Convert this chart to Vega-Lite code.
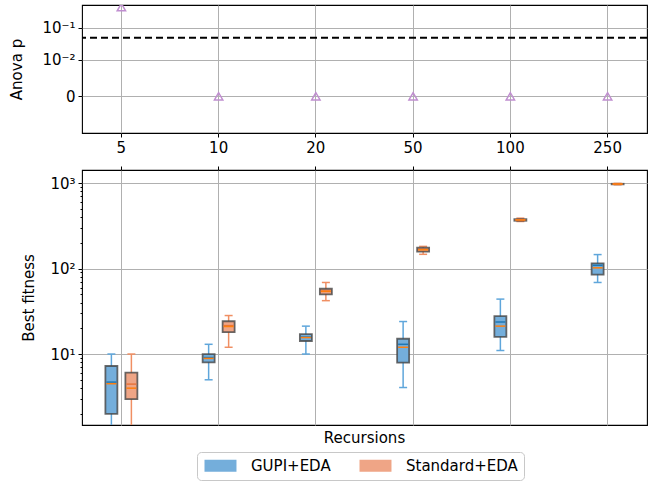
{
  "$schema": "https://vega.github.io/schema/vega-lite/v6.json",
  "padding": {"left": 9, "top": 4, "right": 3, "bottom": 0},
  "background": "white",
  "bounds": "flush",
  "spacing": 37,
  "config": {
    "font": "DejaVu Sans",
    "view": {"stroke": "black", "strokeWidth": 1.1},
    "axis": {
      "labelFontSize": 15, "titleFontSize": 15, "titleFontWeight": "normal",
      "labelColor": "black", "titleColor": "black", "tickColor": "black",
      "tickSize": 4, "tickWidth": 1, "labelPadding": 3,
      "gridColor": "#b0b0b0", "gridWidth": 1, "domain": false,
      "labelFont": "DejaVu Sans", "titleFont": "DejaVu Sans"
    },
    "legend": {"labelFont": "DejaVu Sans", "labelFontSize": 15, "labelColor": "black"},
    "title": {"font": "DejaVu Sans"}
  },
  "vconcat": [
    {
      "width": 565,
      "height": 128,
      "layer": [
        {
          "data": {"values": [
            {"threshold": 0.05}
          ]},
          "mark": {"type": "rule", "color": "black", "strokeWidth": 2, "strokeDash": [7, 4]},
          "encoding": {
            "y": {"field": "threshold", "type": "quantitative", "title": "Anova p"}
          }
        },
        {
          "data": {"values": [
            {"Recursions": "5", "p": 0.43},
            {"Recursions": "10", "p": 0},
            {"Recursions": "20", "p": 0},
            {"Recursions": "50", "p": 0},
            {"Recursions": "100", "p": 0},
            {"Recursions": "250", "p": 0}
          ]},
          "mark": {"type": "point", "shape": "triangle-up", "filled": false, "color": "#c08ed0", "strokeWidth": 1.5, "size": 70, "opacity": 1, "clip": true},
          "encoding": {
            "x": {
              "field": "Recursions", "type": "ordinal",
              "sort": ["5", "10", "20", "50", "100", "250"],
              "scale": {"type": "band", "paddingInner": 0.19, "paddingOuter": 0},
              "axis": {"orient": "bottom", "title": null, "labelAngle": 0, "grid": true, "bandPosition": 0.5}
            },
            "y": {
              "field": "p", "type": "quantitative",
              "scale": {"type": "symlog", "constant": 0.00083, "domain": [-0.01, 0.5], "nice": false, "zero": false},
              "axis": {
                "title": "Anova p", "titlePadding": 17, "values": [0, 0.01, 0.1], "grid": true,
                "labelExpr": "datum.value == 0 ? '0' : (datum.value == 0.01 ? '10⁻²' : '10⁻¹')"
              }
            }
          }
        }
      ]
    },
    {
      "width": 565,
      "height": 255,
      "title": {"text": "Recursions", "orient": "bottom", "anchor": "middle", "fontSize": 15, "fontWeight": "normal", "color": "black", "offset": 6},
      "data": {"values": [
        {"Recursions": "5", "Method": "GUPI+EDA", "min": 1.3, "q1": 2.0, "median": 4.5, "mean": 4.7, "q3": 7.25, "max": 10},
        {"Recursions": "5", "Method": "Standard+EDA", "min": 1.3, "q1": 2.97, "median": 3.99, "mean": 4.45, "q3": 6.06, "max": 10},
        {"Recursions": "10", "Method": "GUPI+EDA", "min": 5.0, "q1": 8.0, "median": 8.9, "mean": 9.1, "q3": 10.0, "max": 13.0},
        {"Recursions": "10", "Method": "Standard+EDA", "min": 12.0, "q1": 18.0, "median": 21.0, "mean": 21.5, "q3": 24.2, "max": 28.2},
        {"Recursions": "20", "Method": "GUPI+EDA", "min": 10.0, "q1": 14.2, "median": 15.6, "mean": 15.8, "q3": 17.1, "max": 21.2},
        {"Recursions": "20", "Method": "Standard+EDA", "min": 42.1, "q1": 49.9, "median": 54.1, "mean": 54.5, "q3": 58.0, "max": 68.7},
        {"Recursions": "50", "Method": "GUPI+EDA", "min": 4.06, "q1": 7.92, "median": 12.0, "mean": 13.0, "q3": 15.1, "max": 24.0},
        {"Recursions": "50", "Method": "Standard+EDA", "min": 146.6, "q1": 157.7, "median": 166, "mean": 167, "q3": 175, "max": 181.5},
        {"Recursions": "100", "Method": "GUPI+EDA", "min": 11.0, "q1": 15.9, "median": 21.2, "mean": 23.7, "q3": 27.7, "max": 43.9},
        {"Recursions": "100", "Method": "Standard+EDA", "min": 355, "q1": 362, "median": 370, "mean": 371, "q3": 378, "max": 388},
        {"Recursions": "250", "Method": "GUPI+EDA", "min": 68.7, "q1": 85.1, "median": 101.9, "mean": 109, "q3": 115, "max": 145.6},
        {"Recursions": "250", "Method": "Standard+EDA", "min": 955, "q1": 965, "median": 973, "mean": 974, "q3": 980, "max": 990}
      ]},
      "encoding": {
        "x": {
          "field": "Recursions", "type": "ordinal",
          "sort": ["5", "10", "20", "50", "100", "250"],
          "scale": {"type": "band", "paddingInner": 0.19, "paddingOuter": 0},
          "axis": {"orient": "top", "title": null, "labels": false, "grid": true, "bandPosition": 0.5}
        },
        "xOffset": {
          "field": "Method", "type": "nominal",
          "sort": ["GUPI+EDA", "Standard+EDA"],
          "scale": {"paddingInner": 0, "paddingOuter": 0.97}
        }
      },
      "layer": [
        {
          "mark": {"type": "rule", "strokeWidth": 1.5, "clip": true},
          "encoding": {
            "y": {
              "field": "min", "type": "quantitative",
              "scale": {"type": "log", "domain": [1.48, 1420], "nice": false, "zero": false},
              "axis": {
                "title": "Best fitness", "titlePadding": 13, "grid": true,
                "values": [2, 3, 4, 5, 6, 7, 8, 9, 10, 20, 30, 40, 50, 60, 70, 80, 90, 100, 200, 300, 400, 500, 600, 700, 800, 900, 1000],
                "labelExpr": "datum.value == 10 ? '10¹' : (datum.value == 100 ? '10²' : (datum.value == 1000 ? '10³' : ''))",
                "tickSize": {"condition": {"test": "datum.value == 10 || datum.value == 100 || datum.value == 1000", "value": 4}, "value": 2},
                "gridOpacity": {"condition": {"test": "datum.value == 10 || datum.value == 100 || datum.value == 1000", "value": 1}, "value": 0}
              }
            },
            "y2": {"field": "max"},
            "color": {"condition": {"test": "datum.Method == 'GUPI+EDA'", "value": "#5fa6db"}, "value": "#f08f63"}
          }
        },
        {
          "mark": {"type": "tick", "orient": "horizontal", "size": 8, "thickness": 1.5, "opacity": 1, "clip": true},
          "encoding": {
            "y": {"field": "min", "type": "quantitative", "title": "Best fitness"},
            "color": {"condition": {"test": "datum.Method == 'GUPI+EDA'", "value": "#5fa6db"}, "value": "#f08f63"}
          }
        },
        {
          "mark": {"type": "tick", "orient": "horizontal", "size": 8, "thickness": 1.5, "opacity": 1, "clip": true},
          "encoding": {
            "y": {"field": "max", "type": "quantitative", "title": "Best fitness"},
            "color": {"condition": {"test": "datum.Method == 'GUPI+EDA'", "value": "#5fa6db"}, "value": "#f08f63"}
          }
        },
        {
          "mark": {"type": "bar", "width": 12, "stroke": "#454545", "strokeOpacity": 0.8, "strokeWidth": 1.8, "opacity": 1, "clip": true},
          "encoding": {
            "y": {"field": "q1", "type": "quantitative", "title": "Best fitness"},
            "y2": {"field": "q3"},
            "fill": {
              "field": "Method", "type": "nominal",
              "scale": {"domain": ["GUPI+EDA", "Standard+EDA"], "range": ["#74aedb", "#efa586"]},
              "legend": {
                "title": null, "orient": "none", "legendX": 115, "legendY": 447,
                "direction": "horizontal",
                "symbolType": "M-1,-1H4.33V1H-1Z", "symbolSize": 144,
                "symbolStrokeWidth": 0, "symbolOpacity": 1,
                "labelFontSize": 15, "labelOffset": 33, "columnPadding": 27,
                "padding": 6, "strokeColor": "#c8c8c8", "cornerRadius": 4, "fillColor": "white"
              }
            }
          }
        },
        {
          "mark": {"type": "tick", "orient": "horizontal", "size": 10, "thickness": 1.5, "opacity": 1, "clip": true},
          "encoding": {
            "y": {"field": "mean", "type": "quantitative", "title": "Best fitness"},
            "color": {"condition": {"test": "datum.Method == 'GUPI+EDA'", "value": "#1f77b4"}, "value": "#e8743b"}
          }
        },
        {
          "mark": {"type": "tick", "orient": "horizontal", "size": 10, "thickness": 1.5, "opacity": 1, "color": "#ff7f0e", "clip": true},
          "encoding": {
            "y": {"field": "median", "type": "quantitative", "title": "Best fitness"}
          }
        }
      ]
    }
  ]
}
